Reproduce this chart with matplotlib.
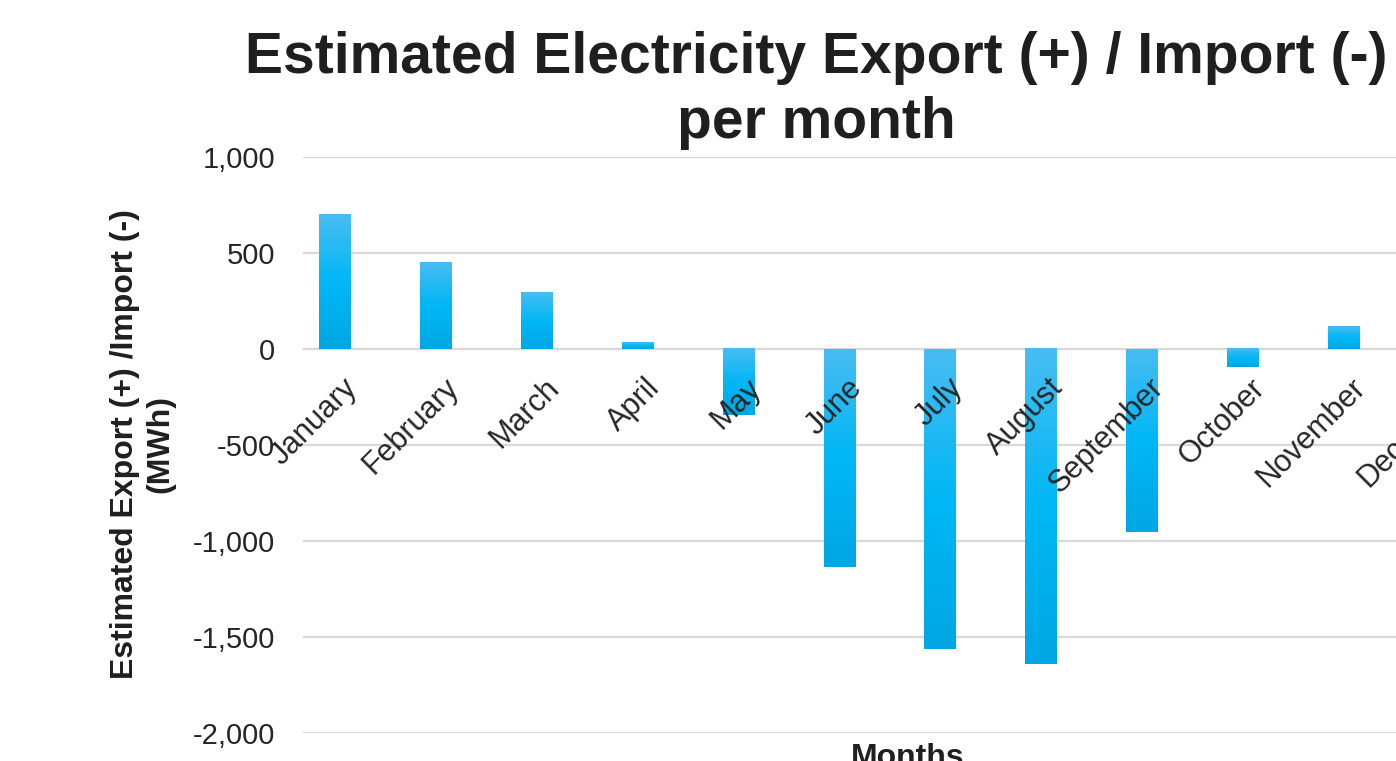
import numpy as np
import matplotlib
matplotlib.use("Agg")
import matplotlib.pyplot as plt
from matplotlib.colors import to_rgb
from matplotlib.transforms import ScaledTranslation

months = ["January", "February", "March", "April", "May", "June", "July",
          "August", "September", "October", "November", "December"]
values = [698, 448, 292, 36, -344, -1135, -1562, -1641, -953, -94, 115, 500]
yticks = [1000, 500, 0, -500, -1000, -1500, -2000]

plt.rcParams['font.family'] = ['Liberation Sans', 'DejaVu Sans']
TXT = '#262626'

W, H = 1396, 761
fig = plt.figure(figsize=(W / 100, H / 100), dpi=100)
ax = fig.add_axes([303 / W, (H - 733) / H, 1210 / W, 576 / H])

x = np.arange(len(months))
bw = 0.317
bars = ax.bar(x - bw / 2 - 0.02, values, width=bw, color='none', edgecolor='none', zorder=3)

# vertical gradient per bar (light top -> bright middle -> slightly darker bottom)
stops = [to_rgb('#48BDF2'), to_rgb('#00B7F5'), to_rgb('#00A7E4')]
n = 256
t = np.linspace(0, 1, n)
grad = np.zeros((n, 1, 3))
for c in range(3):
    grad[:, 0, c] = np.interp(t, [0, 0.5, 1], [s[c] for s in stops])
for b in bars:
    x0, y0 = b.get_x(), b.get_y()
    x1, y1 = x0 + b.get_width(), y0 + b.get_height()
    ax.imshow(grad, extent=(x0, x1, min(y0, y1), max(y0, y1)), origin='upper',
              aspect='auto', zorder=3, interpolation='bilinear')

ax.set_xlim(-0.5, 11.5)
ax.set_ylim(-2000, 1000)
ax.set_yticks(yticks)
ax.set_yticklabels([f"{v:,}" for v in yticks], fontsize=21, color=TXT)
ax.grid(axis='y', color='#D9D9D9', linewidth=1.6, zorder=0)
ax.set_axisbelow(True)
for s in ['left', 'right', 'top']:
    ax.spines[s].set_visible(False)
ax.spines['bottom'].set_position(('data', 0))
ax.spines['bottom'].set_visible(False)
ax.tick_params(axis='both', length=0)
ax.tick_params(axis='y', pad=20)
ax.tick_params(axis='x', pad=17)
ax.set_xticks(x)
ax.set_xticklabels(months, fontsize=22, color=TXT, rotation=45,
                   ha='right', va='top', rotation_mode='anchor')
shift = ScaledTranslation(-11 / 100, 0, fig.dpi_scale_trans)
for lab in ax.get_xticklabels():
    lab.set_transform(lab.get_transform() + shift)
ax.xaxis.set_zorder(5)

# Title (two lines)
fig.text(816 / W, 1 - 73 / H, "Estimated Electricity Export (+) / Import (-)",
         ha='center', va='baseline', fontsize=41, fontweight='bold', color='#1F1F1F')
fig.text(816 / W, 1 - 138 / H, "per month",
         ha='center', va='baseline', fontsize=41, fontweight='bold', color='#1F1F1F')

# Y label (two lines)
fig.text(125 / W, 1 - 444 / H, "Estimated Export (+) /Import (-)", rotation=90,
         ha='center', va='center', fontsize=23, fontweight='bold', color='#1F1F1F')
fig.text(160 / W, 1 - 444 / H, "(MWh)", rotation=90,
         ha='center', va='center', fontsize=23, fontweight='bold', color='#1F1F1F')

# X label
fig.text(908 / W, 1 - 743 / H, "Months", ha='center', va='top',
         fontsize=23, fontweight='bold', color='#1F1F1F')

fig.savefig("out.png", dpi=100)
